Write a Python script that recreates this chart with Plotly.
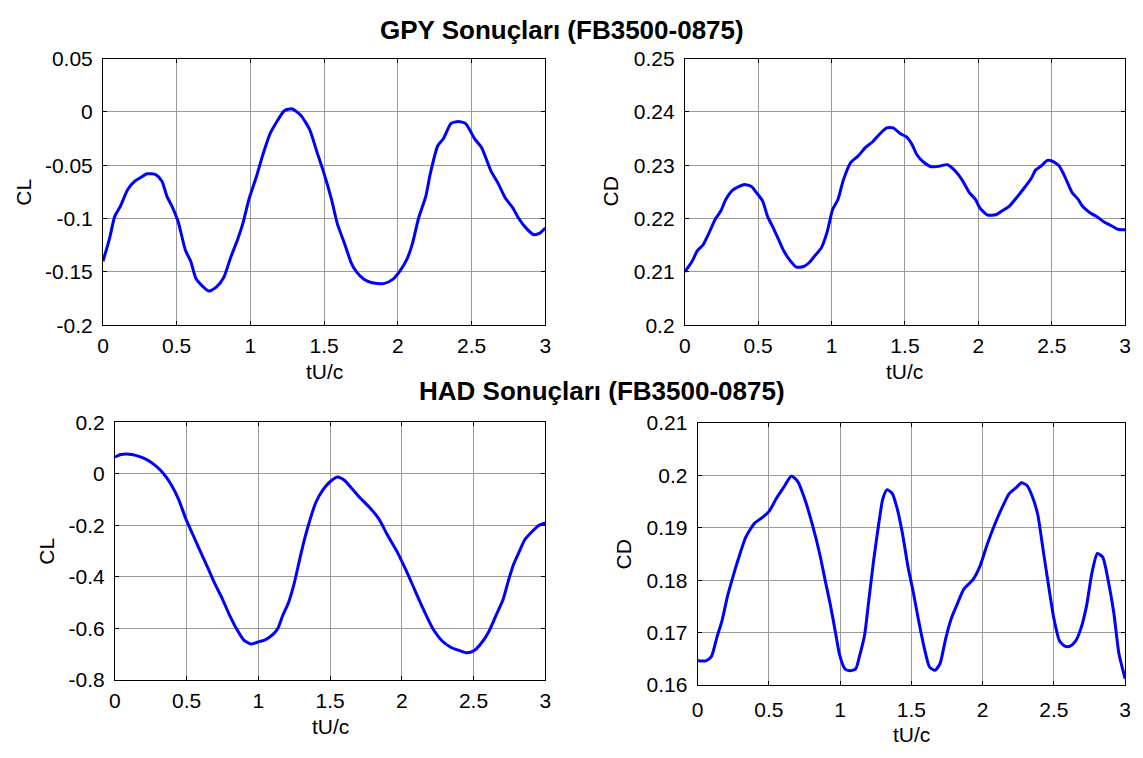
import plotly.graph_objects as go

# ---------------- data ----------------
gpy_cl_t = [0.0, 0.044, 0.08, 0.12, 0.167, 0.216, 0.25, 0.3, 0.36, 0.40, 0.436, 0.47, 0.51, 0.56, 0.595, 0.63,
            0.68, 0.72, 0.77, 0.82, 0.865, 0.915, 0.95, 0.99, 1.04, 1.085, 1.135, 1.18, 1.23, 1.28, 1.34, 1.40,
            1.45, 1.50, 1.55, 1.59, 1.64, 1.685, 1.72, 1.77, 1.82, 1.905, 1.965, 2.015, 2.065, 2.10, 2.14, 2.19,
            2.22, 2.27, 2.31, 2.36, 2.41, 2.46, 2.52, 2.57, 2.63, 2.68, 2.73, 2.78, 2.82, 2.87, 2.92, 2.96, 3.0]
gpy_cl = [-0.140, -0.119, -0.098, -0.088, -0.073, -0.065, -0.062, -0.058, -0.059, -0.065, -0.080, -0.089, -0.103,
          -0.130, -0.140, -0.156, -0.164, -0.168, -0.164, -0.155, -0.137, -0.119, -0.104, -0.082, -0.061, -0.040,
          -0.020, -0.009, 0.001, 0.003, -0.003, -0.016, -0.037, -0.058, -0.082, -0.105, -0.124, -0.142, -0.150,
          -0.157, -0.160, -0.161, -0.157, -0.149, -0.137, -0.123, -0.100, -0.079, -0.058, -0.032, -0.025, -0.011,
          -0.009, -0.011, -0.025, -0.034, -0.055, -0.067, -0.081, -0.090, -0.100, -0.109, -0.115, -0.114, -0.109]

gpy_cd_t = [0.0, 0.05, 0.086, 0.123, 0.16, 0.21, 0.245, 0.28, 0.33, 0.37, 0.405, 0.454, 0.49, 0.53, 0.565, 0.60,
            0.64, 0.675, 0.71, 0.76, 0.81, 0.85, 0.885, 0.93, 0.97, 1.007, 1.044, 1.08, 1.13, 1.18, 1.23, 1.28,
            1.33, 1.375, 1.42, 1.47, 1.51, 1.55, 1.58, 1.63, 1.68, 1.73, 1.79, 1.84, 1.89, 1.94, 1.98, 2.01, 2.06,
            2.12, 2.16, 2.21, 2.26, 2.32, 2.36, 2.39, 2.43, 2.47, 2.50, 2.55, 2.59, 2.64, 2.68, 2.71, 2.76, 2.81,
            2.86, 2.91, 2.95, 3.0]
gpy_cd = [0.2100, 0.2120, 0.2140, 0.2150, 0.2170, 0.2200, 0.2214, 0.2236, 0.2254, 0.2260, 0.2264, 0.2260, 0.2248,
          0.2233, 0.2203, 0.2184, 0.2160, 0.2139, 0.2124, 0.2109, 0.2110, 0.2118, 0.2130, 0.2145, 0.2175, 0.2217,
          0.2236, 0.2272, 0.2305, 0.2317, 0.2333, 0.2344, 0.2359, 0.2370, 0.2370, 0.2359, 0.2353, 0.2338, 0.2320,
          0.2305, 0.2297, 0.2298, 0.2301, 0.2290, 0.2272, 0.2248, 0.2236, 0.2220, 0.2207, 0.2207, 0.2214, 0.2223,
          0.2239, 0.2260, 0.2275, 0.2291, 0.2299, 0.2309, 0.2308, 0.2299, 0.2278, 0.2248, 0.2236, 0.2223, 0.2211,
          0.2203, 0.2193, 0.2186, 0.2180, 0.2179]

had_cl_t = [0.0, 0.043, 0.118, 0.168, 0.219, 0.27, 0.32, 0.357, 0.394, 0.445, 0.495, 0.545, 0.595, 0.646, 0.696,
            0.746, 0.796, 0.847, 0.897, 0.947, 0.997, 1.048, 1.098, 1.136, 1.17, 1.21, 1.25, 1.286, 1.324, 1.362,
            1.40, 1.45, 1.50, 1.55, 1.60, 1.65, 1.71, 1.776, 1.84, 1.90, 1.965, 2.03, 2.09, 2.15, 2.216, 2.28,
            2.34, 2.40, 2.455, 2.505, 2.555, 2.606, 2.656, 2.706, 2.744, 2.78, 2.82, 2.857, 2.907, 2.957, 3.0]
had_cl = [0.065, 0.075, 0.075, 0.0675, 0.056, 0.0375, 0.0125, -0.0125, -0.044, -0.100, -0.175, -0.2375, -0.300,
          -0.3625, -0.425, -0.481, -0.544, -0.600, -0.644, -0.660, -0.6525, -0.644, -0.625, -0.600, -0.550, -0.500,
          -0.425, -0.3375, -0.250, -0.175, -0.1125, -0.0625, -0.031, -0.0125, -0.025, -0.056, -0.094, -0.131,
          -0.175, -0.2375, -0.300, -0.375, -0.450, -0.525, -0.600, -0.6475, -0.6725, -0.685, -0.694, -0.685,
          -0.656, -0.6125, -0.550, -0.4875, -0.4125, -0.350, -0.300, -0.256, -0.225, -0.200, -0.191]

had_cd_t = [0.0, 0.058, 0.096, 0.134, 0.172, 0.21, 0.248, 0.286, 0.337, 0.40, 0.45, 0.50, 0.552, 0.603, 0.658,
            0.704, 0.754, 0.805, 0.856, 0.894, 0.932, 0.97, 0.995, 1.033, 1.07, 1.11, 1.134, 1.172, 1.197, 1.235,
            1.273, 1.30, 1.33, 1.367, 1.40, 1.438, 1.476, 1.514, 1.552, 1.59, 1.628, 1.666, 1.70, 1.742, 1.78,
            1.818, 1.868, 1.932, 1.98, 2.033, 2.084, 2.134, 2.185, 2.235, 2.273, 2.311, 2.35, 2.387, 2.425, 2.463,
            2.50, 2.54, 2.577, 2.615, 2.653, 2.69, 2.73, 2.767, 2.805, 2.843, 2.88, 2.92, 2.957, 3.0]
had_cd = [0.1646, 0.1646, 0.1654, 0.1690, 0.1724, 0.1770, 0.1807, 0.1841, 0.1882, 0.1909, 0.1919, 0.1931, 0.1956,
          0.1977, 0.1999, 0.1988, 0.1953, 0.1906, 0.1851, 0.1801, 0.1752, 0.1696, 0.1659, 0.1631, 0.1627, 0.1631,
          0.1653, 0.1696, 0.1752, 0.1838, 0.1912, 0.1956, 0.1973, 0.1965, 0.1937, 0.1888, 0.1826, 0.1776, 0.1721,
          0.1671, 0.1634, 0.1628, 0.1640, 0.1690, 0.1727, 0.1752, 0.1783, 0.1801, 0.1826, 0.1869, 0.1906, 0.1937,
          0.1965, 0.1977, 0.1986, 0.1981, 0.1959, 0.1925, 0.1857, 0.1789, 0.1727, 0.1684, 0.1674, 0.1674, 0.1684,
          0.1708, 0.1752, 0.1814, 0.1851, 0.1844, 0.1801, 0.1739, 0.1659, 0.1612]

x_ticks = [0, 0.5, 1, 1.5, 2, 2.5, 3]
x_tick_labels = ["0", "0.5", "1", "1.5", "2", "2.5", "3"]
gpy_cl_ticks = [0.05, 0, -0.05, -0.1, -0.15, -0.2]
gpy_cl_labels = ["0.05", "0", "-0.05", "-0.1", "-0.15", "-0.2"]
gpy_cd_ticks = [0.25, 0.24, 0.23, 0.22, 0.21, 0.2]
gpy_cd_labels = ["0.25", "0.24", "0.23", "0.22", "0.21", "0.2"]
had_cl_ticks = [0.2, 0, -0.2, -0.4, -0.6, -0.8]
had_cl_labels = ["0.2", "0", "-0.2", "-0.4", "-0.6", "-0.8"]
had_cd_ticks = [0.21, 0.2, 0.19, 0.18, 0.17, 0.16]
had_cd_labels = ["0.21", "0.2", "0.19", "0.18", "0.17", "0.16"]

title_gpy = "GPY Sonuçları (FB3500-0875)"
title_had = "HAD Sonuçları (FB3500-0875)"
x_label = "tU/c"

# ---------------- figure ----------------
W, H = 1143, 758
FONT = "Liberation Sans, Arial, sans-serif"
BLUE = "#0000FF"

def px(x):
    return x / W

def py(y):
    return 1 - y / H

# plot boxes in pixels: (left, right, top, bottom)
boxes = [(98, 545, 48, 323), (686, 1131, 48, 323), (110, 545, 423, 689), (699, 1131, 424, 694)]
ylabels = ["CL", "CD", "CL", "CD"]
ylabel_x = [18, 611, 41, 624]
xlabel_y = [371, 371, 737, 745]
xstandoff = [2, 2, 2, 6]
series = [(gpy_cl_t, gpy_cl), (gpy_cd_t, gpy_cd), (had_cl_t, had_cl), (had_cd_t, had_cd)]
yranges = [(-0.2, 0.05), (0.2, 0.25), (-0.8, 0.2), (0.16, 0.21)]
yticks = [(gpy_cl_ticks, gpy_cl_labels), (gpy_cd_ticks, gpy_cd_labels),
          (had_cl_ticks, had_cl_labels), (had_cd_ticks, had_cd_labels)]

fig = go.Figure()
annotations = []
for i in range(4):
    n = "" if i == 0 else str(i + 1)
    l, r, t, b = boxes[i]
    fig.add_trace(go.Scatter(x=series[i][0], y=series[i][1], mode="lines",
                             line=dict(color=BLUE, width=3, shape="spline", smoothing=0.6),
                             xaxis="x" + n, yaxis="y" + n, showlegend=False, hoverinfo="skip"))
    axcommon = dict(showline=True, linecolor="black", linewidth=1, mirror="allticks",
                    ticks="inside", ticklen=4, tickcolor="black", tickwidth=1,
                    showgrid=True, gridcolor="#9a9a9a", gridwidth=1, zeroline=False,
                    tickfont=dict(family=FONT, size=21, color="black"))
    fig.layout["xaxis" + n] = dict(domain=[px(l), px(r)], range=[0, 3], anchor="y" + n,
                                   tickmode="array", tickvals=x_ticks, ticktext=x_tick_labels,
                                   ticklabelstandoff=xstandoff[i], **axcommon)
    fig.layout["yaxis" + n] = dict(domain=[py(b), py(t)], range=list(yranges[i]), anchor="x" + n,
                                   tickmode="array", tickvals=yticks[i][0], ticktext=yticks[i][1],
                                   ticklabelstandoff=5, **axcommon)
    annotations.append(dict(text=x_label, x=px((l + r) / 2), y=py(xlabel_y[i]), xref="paper", yref="paper",
                            xanchor="center", yanchor="middle", showarrow=False,
                            font=dict(family=FONT, size=21, color="black")))
    annotations.append(dict(text=ylabels[i], x=px(ylabel_x[i]), y=py((t + b) / 2), xref="paper", yref="paper",
                            xanchor="center", yanchor="middle", showarrow=False, textangle=-90,
                            font=dict(family=FONT, size=21, color="black")))

annotations.append(dict(text="<b>" + title_gpy + "</b>", x=px(562), y=py(19), xref="paper", yref="paper",
                        xanchor="center", yanchor="middle", showarrow=False,
                        font=dict(family=FONT, size=26, color="black")))
annotations.append(dict(text="<b>" + title_had + "</b>", x=px(602), y=py(391), xref="paper", yref="paper",
                        xanchor="center", yanchor="middle", showarrow=False,
                        font=dict(family=FONT, size=26, color="black")))

fig.update_layout(width=W, height=H, margin=dict(l=0, r=0, t=0, b=0),
                  paper_bgcolor="white", plot_bgcolor="white", annotations=annotations)

fig.write_html("out.html", config={"displayModeBar": False})
